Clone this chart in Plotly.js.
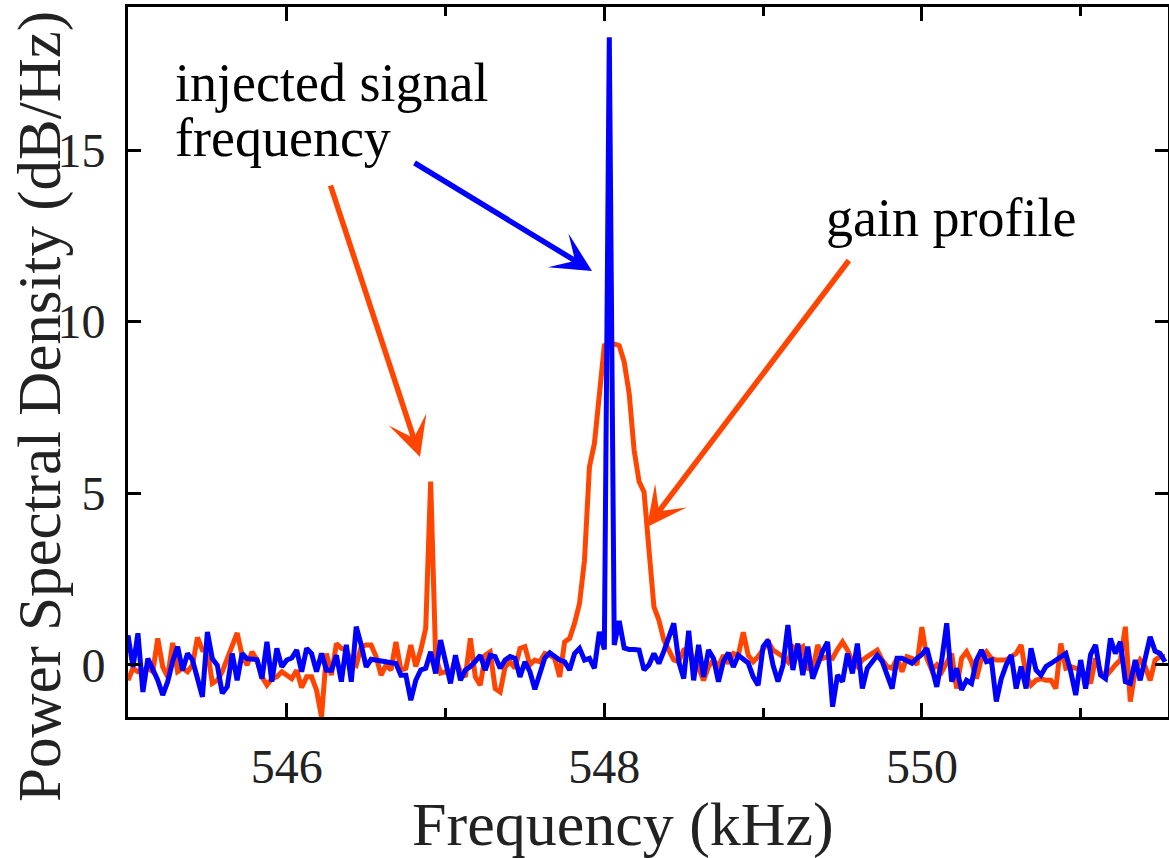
<!DOCTYPE html>
<html>
<head>
<meta charset="utf-8">
<script src="https://cdn.plot.ly/plotly-3.0.1.min.js"></script>
<style>html,body{margin:0;padding:0;background:#fff;}#chart{width:1169px;height:858px;}</style>
</head>
<body>
<div id="chart"></div>
<script>
// Frequency grid (kHz): FFT bins starting at 545 kHz, spacing 1/32 kHz
var freqStart = 545.0;
var freqStep = 0.03125;

// Gain profile (orange), dB/Hz
var gainProfile = [
 -0.45,-0.1,-0.2,-0.16,-0.1,-0.2,0.77,-0.06,-0.35,0.64,
 -0.2,-0.1,-0.2,0.0,0.8,0.43,0.43,-0.54,-0.45,-0.2,
 0.2,0.5,0.93,0.28,-0.01,0.38,0.14,-0.35,-0.59,-0.4,
 -0.35,-0.2,-0.3,-0.4,-0.16,-0.66,-0.35,-0.35,-0.74,-1.52,
 0.33,-0.3,0.62,0.48,0.43,0.09,-0.01,0.53,0.58,0.58,
 0.24,-0.3,-0.01,-0.15,0.67,-0.15,-0.1,0.58,-0.05,0.43,
 1.06,5.34,0.24,-0.24,-0.2,-0.3,0.19,-0.2,-0.35,0.77,
 -0.35,-0.59,0.28,0.38,-0.69,-0.79,-0.06,0.09,-0.1,0.48,
 0.53,0.0,0.14,0.09,0.33,0.28,0.19,-0.35,0.67,0.77,
 1.21,1.79,3.05,5.77,6.45,7.8,9.3,9.35,9.35,9.3,
 8.83,7.91,6.26,5.34,5.04,3.35,1.69,1.3,0.72,0.43,
 0.14,0.09,0.43,0.48,0.14,-0.1,-0.45,-0.05,0.14,-0.05,
 0.28,0.04,0.33,0.28,0.95,0.28,0.09,0.24,0.45,0.67,
 0.43,0.33,0.24,0.09,0.53,0.43,0.53,-0.1,-0.15,0.58,
 0.19,0.24,0.19,0.45,0.67,0.43,0.09,-0.05,0.14,0.24,
 0.33,0.43,0.14,-0.05,-0.1,0.19,-0.2,0.24,0.19,0.0,
 1.1,0.19,-0.15,0.0,-0.2,0.04,0.33,-0.69,0.19,0.38,
 0.09,-0.4,0.19,0.38,0.19,0.14,0.14,0.14,0.24,0.33,
 0.58,-0.3,-0.59,-0.45,-0.4,-0.45,-0.45,-0.69,0.62,-0.1,
 -0.05,-0.1,-0.15,-0.3,-0.54,0.19,-0.2,-0.35,-0.15,0.0,
 0.14,1.11,-1.07,-0.15,0.14,-0.05,-0.45,0.14,0.24,0.24
];

// Injected signal (blue), dB/Hz
var injectedSignal = [
 0.86,-0.06,0.92,-0.79,0.18,-0.15,-0.45,-0.88,-0.49,0.1,
 0.53,-0.16,0.33,0.14,-0.45,-0.93,0.96,0.18,-0.01,-0.83,
 -0.64,0.33,-0.45,0.33,0.18,0.18,0.15,-0.4,0.67,-0.49,
 0.48,-0.06,0.14,0.2,0.43,-0.2,0.48,0.33,-0.2,0.33,
 -0.16,-0.16,0.28,-0.49,0.58,-0.49,1.11,0.58,-0.06,0.16,
 0.14,0.12,0.08,0.09,0.04,-0.3,-0.3,-1.03,-0.45,-0.15,
 -0.1,0.38,-0.25,0.72,0.14,-0.54,0.28,-0.45,-0.15,-0.05,
 0.1,0.28,-0.16,0.28,0.24,-0.1,0.14,0.24,0.19,-0.35,
 0.09,-0.2,-0.71,-0.2,0.2,0.35,0.24,0.14,0.09,-0.15,
 0.33,0.48,0.14,0.19,-0.1,0.96,0.45,18.29,0.58,1.28,
 0.49,0.45,0.45,0.43,-0.15,0.0,0.33,0.04,0.4,0.8,
 1.21,0.09,-0.4,0.99,-0.45,0.58,-0.35,0.43,0.19,-0.49,
 0.1,0.35,-0.06,0.28,0.14,0.05,-0.35,-0.59,0.53,0.72,
 -0.01,-0.49,-0.01,1.16,-0.15,0.62,-0.3,0.53,-0.4,-0.01,
 0.4,0.67,-1.22,-0.3,-0.49,0.33,-0.25,0.62,-0.69,-0.1,
 0.1,0.28,0.1,-0.25,-0.69,0.19,0.19,0.12,0.05,0.19,
 0.3,0.48,-0.1,-0.64,0.14,1.21,-0.49,-0.1,-0.73,-0.45,
 -0.54,0.14,0.43,0.09,0.14,-1.07,-0.4,0.0,0.28,-0.69,
 -0.05,-0.69,0.48,-0.15,-0.3,-0.05,0.04,0.14,0.25,0.33,
 -0.2,-0.88,0.14,-0.69,0.3,0.58,-0.3,-0.4,0.77,0.33,
 0.67,-0.49,-0.54,0.14,-0.45,0.14,0.82,0.4,0.33,0.09
];

var majorXTicks = [546, 548, 550];
var minorXTicks = [545, 547, 549, 551];
var yTicks = [0, 5, 10, 15];
var xTitle = 'Frequency (kHz)';
var yTitle = 'Power Spectral Density (dB/Hz)';
var label1a = 'injected signal';
var label1b = 'frequency';
var label2 = 'gain profile';

var ORANGE = '#FF4500';
var BLUE = '#0000FF';
var SERIF = 'Liberation Serif, Times New Roman, serif';

var traces = [
  {type:'scatter', mode:'lines', y: gainProfile, x0: freqStart, dx: freqStep,
   line:{color: ORANGE, width: 5}, hoverinfo:'skip', showlegend:false},
  {type:'scatter', mode:'lines', y: injectedSignal, x0: freqStart, dx: freqStep,
   line:{color: BLUE, width: 5}, hoverinfo:'skip', showlegend:false}
];

var axisCommon = {
  showline:true, linewidth:3, linecolor:'#000', mirror:'allticks',
  ticks:'inside', tickwidth:3, tickcolor:'#000',
  showgrid:false, zeroline:false,
  tickfont:{family: SERIF, size:48, color:'#222'}
};

var layout = {
  width:1169, height:858,
  margin:{l:128, r:1, t:7, b:141, pad:0},
  paper_bgcolor:'#fff', plot_bgcolor:'#fff',
  showlegend:false,
  xaxis: Object.assign({}, axisCommon, {
    range:[545, 551.55], tickmode:'array', tickvals: majorXTicks,
    ticktext: majorXTicks.map(String), ticklen:14, ticklabelstandoff:5,
    minor:{tickmode:'array', tickvals: minorXTicks, ticks:'inside', ticklen:9, tickwidth:3, tickcolor:'#000', showgrid:false}
  }),
  yaxis: Object.assign({}, axisCommon, {
    range:[-1.52, 19.17], tickmode:'array', tickvals: yTicks,
    ticktext: yTicks.map(String), ticklen:13, ticklabelstandoff:10
  }),
  annotations:[
    {xref:'paper', yref:'paper', x:(623-128)/1040, y:(717-824)/710, xanchor:'center', yanchor:'middle',
     text:xTitle, showarrow:false, font:{family:SERIF, size:62, color:'#222'}},
    {xref:'paper', yref:'paper', x:(40-128)/1040, y:(717-407)/710, xanchor:'center', yanchor:'middle',
     text:yTitle, textangle:-90, showarrow:false, font:{family:SERIF, size:61, color:'#222'}},
    {xref:'paper', yref:'paper', x:(173-128)/1040, y:(717-83)/710, xanchor:'left', yanchor:'middle',
     text:label1a, showarrow:false, font:{family:SERIF, size:54, color:'#000'}},
    {xref:'paper', yref:'paper', x:(173-128)/1040, y:(717-138)/710, xanchor:'left', yanchor:'middle',
     text:label1b, showarrow:false, font:{family:SERIF, size:54, color:'#000'}},
    {xref:'paper', yref:'paper', x:(824-128)/1040, y:(717-218)/710, xanchor:'left', yanchor:'middle',
     text:label2, showarrow:false, font:{family:SERIF, size:54, color:'#000'}},
    {xref:'paper', yref:'paper', x:(592-128)/1040, y:(717-271)/710, text:'', showarrow:true,
     ax:-179, ay:-109, arrowcolor:BLUE, arrowwidth:5.5, arrowhead:3, arrowsize:1.2, standoff:0},
    {xref:'paper', yref:'paper', x:(420-128)/1040, y:(717-457)/710, text:'', showarrow:true,
     ax:-90, ay:-273, arrowcolor:ORANGE, arrowwidth:5.5, arrowhead:3, arrowsize:1.2, standoff:0},
    {xref:'paper', yref:'paper', x:(647-128)/1040, y:(717-527)/710, text:'', showarrow:true,
     ax:203, ay:-268, arrowcolor:ORANGE, arrowwidth:5.5, arrowhead:3, arrowsize:1.2, standoff:0}
  ]
};

Plotly.newPlot('chart', traces, layout, {displayModeBar:false, staticPlot:true});
</script>
</body>
</html>
